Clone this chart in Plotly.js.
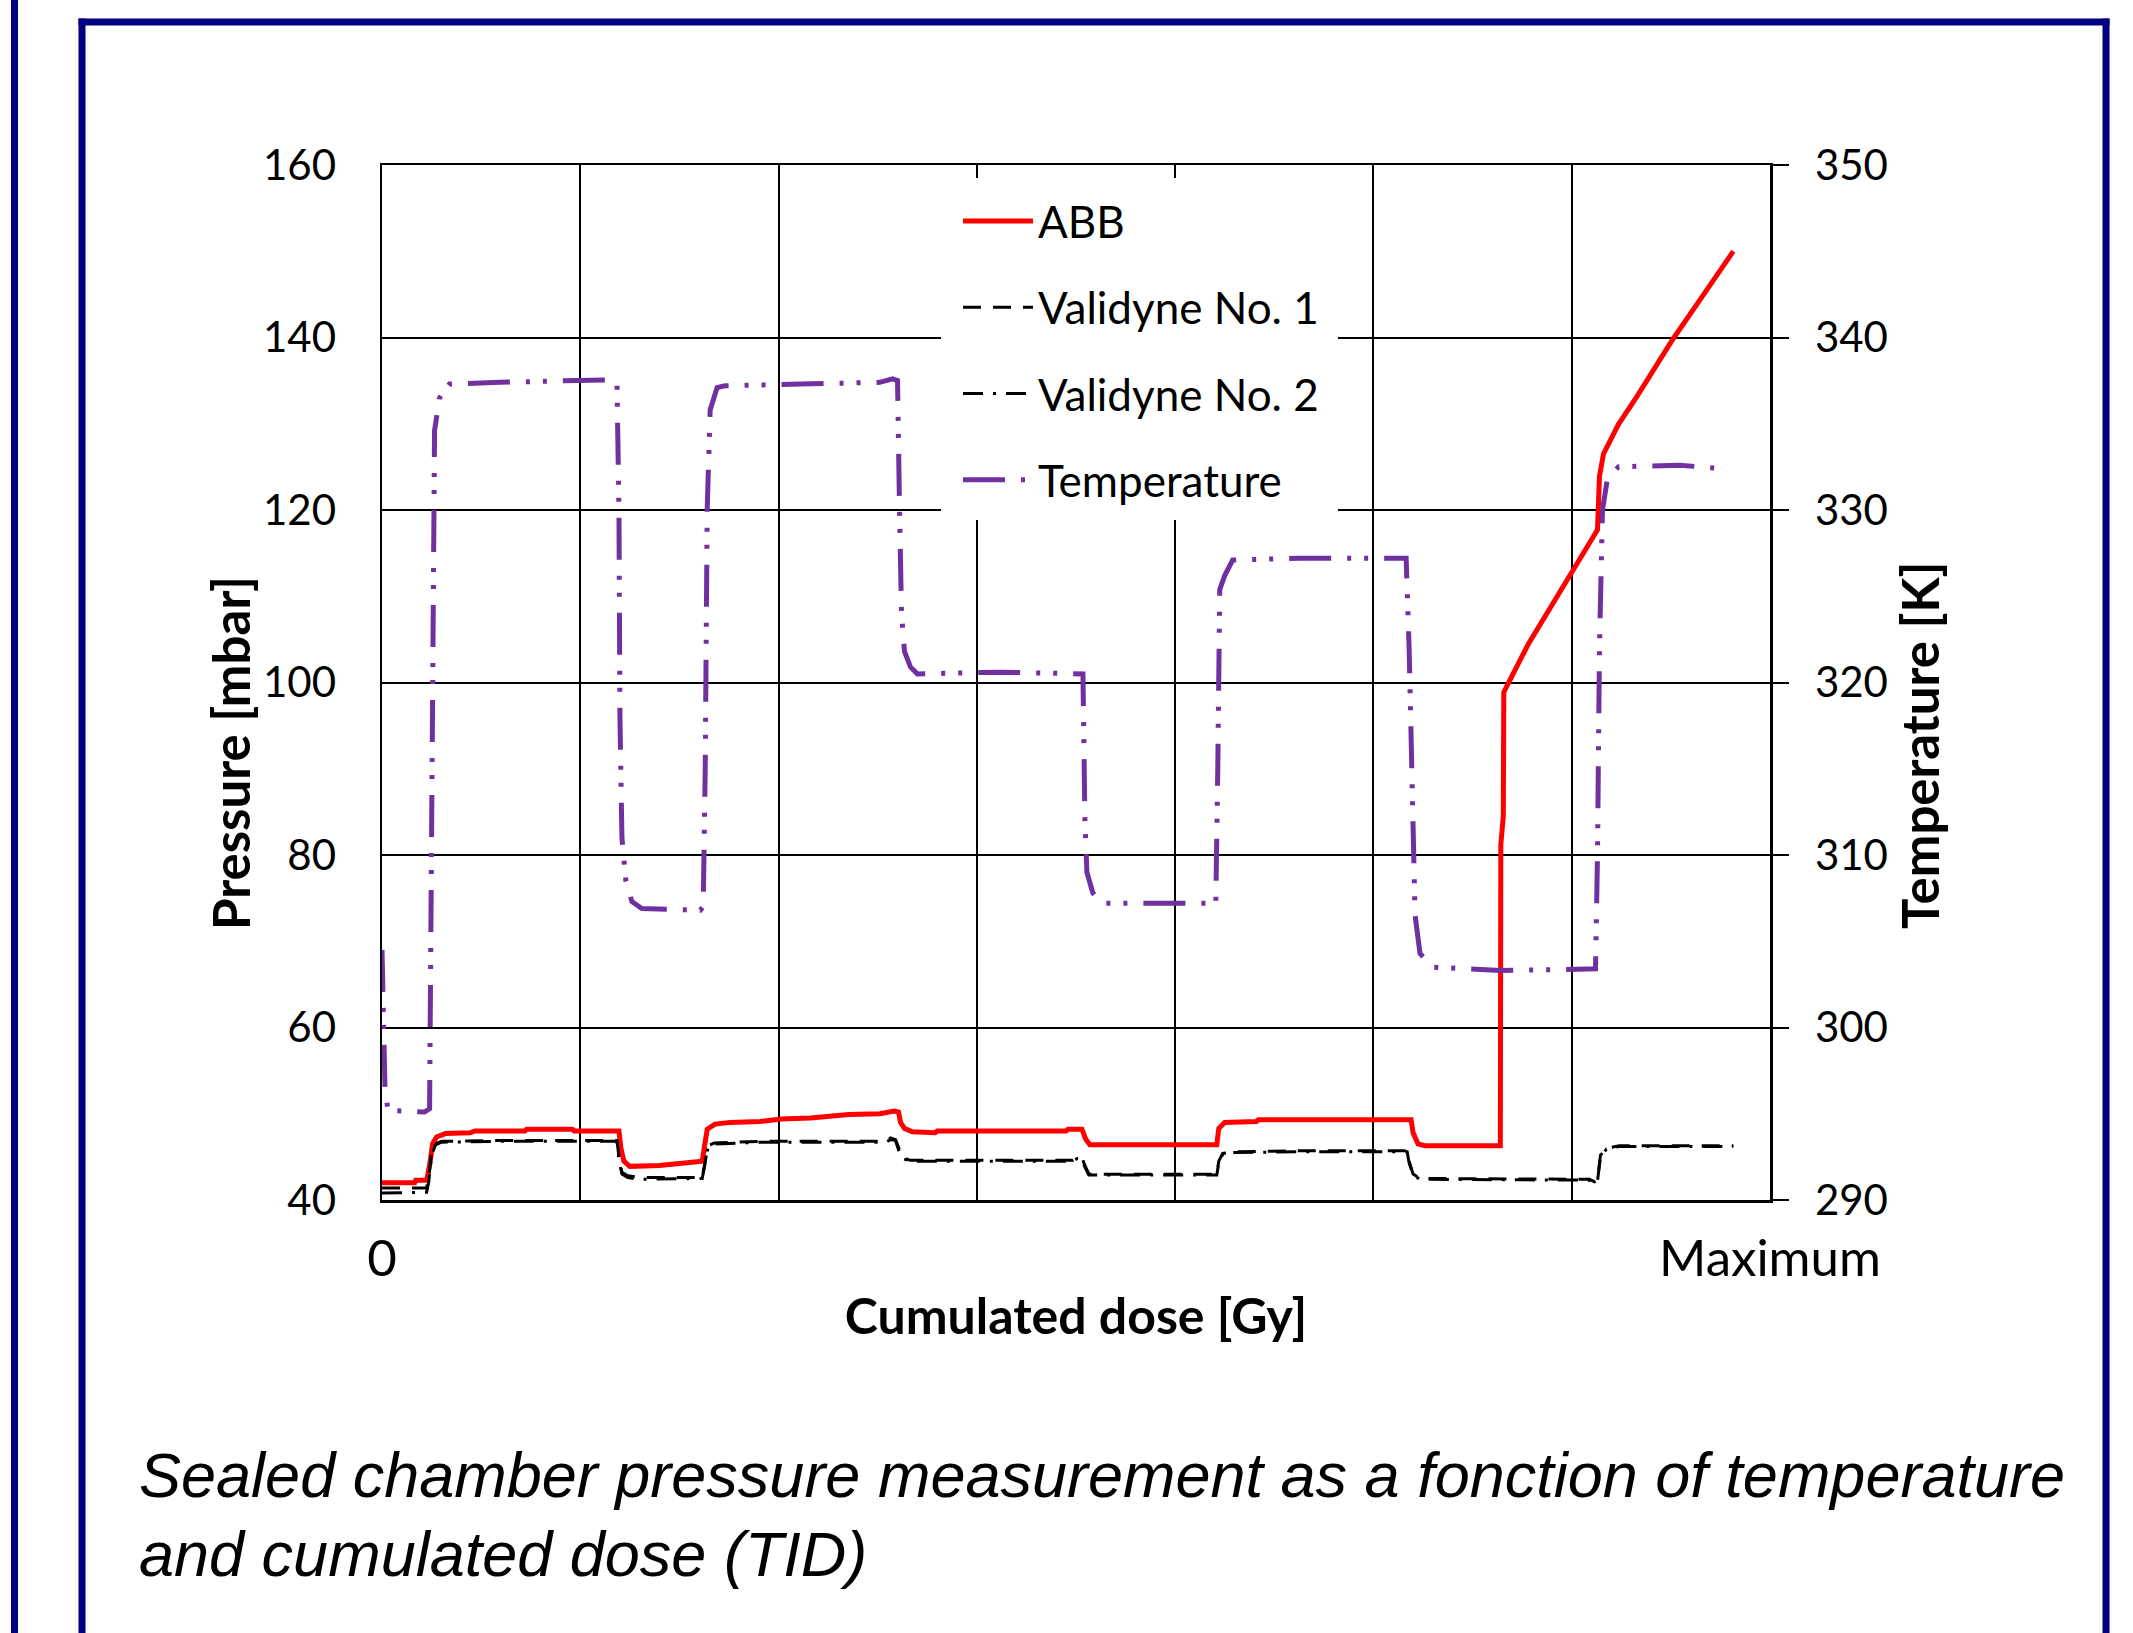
<!DOCTYPE html>
<html><head><meta charset="utf-8">
<script src="https://cdn.plot.ly/plotly-3.0.1.min.js"></script>
<style>html,body{margin:0;padding:0;background:#fff;} #chart{width:2133px;height:1633px;}</style>
</head><body><div id="chart"></div>
<script>
// ---- data (dose in arbitrary units, 0 .. 1400 = Maximum) ----
const doseTicks = [0, 200, 400, 600, 800, 1000, 1200, 1400];
const doseTickText = ['0', '', '', '', '', '', '', 'Maximum'];

const tempDose = [0,3,6,43,48,50,51,53,58,68,119,180,230,237,239,240,242,246,252,262,321,324,326,328,331,338,346,422,502,515,520,522,524,527,533,540,623,707,709,711,717,726,841,843,845,850,858,926,1033,1036,1039,1042,1047,1059,1128,1224,1226,1228,1231,1236,1247,1309,1350];
const tempK = [304.5,296.5,295.2,295.1,295.3,310,325,334.6,336.5,337.3,337.4,337.45,337.55,337.4,330,318,311,308.5,307.3,306.9,306.8,307.0,315,330,335.8,337.1,337.2,337.3,337.4,337.6,337.5,330,324,321.8,320.9,320.5,320.6,320.5,312,309,307.8,307.2,307.2,315,325.4,326.2,327.1,327.2,327.2,322,313,306.5,304.3,303.5,303.3,303.4,310,322,330,331.8,332.5,332.6,332.4];

const abbDose = [0,33,34,45,48,51,55,64,89,94,144,146,192,194,239,241,244,250,280,301,323,325,328,336,351,381,403,432,471,502,517,521,523,527,535,558,560,690,692,706,710,714,842,844,850,882,884,1038,1040,1045,1052,1128,1128.5,1131,1131.5,1156,1198,1226,1228,1232,1236,1247,1266,1302,1329,1363];
const abbP = [42.0,42.0,42.3,42.3,44.0,46.5,47.3,47.7,47.8,48.0,48.0,48.2,48.2,48.0,48.0,46.0,44.5,43.9,44.0,44.3,44.5,46.0,48.2,48.8,49.0,49.1,49.4,49.5,49.9,50.0,50.3,50.2,49.0,48.3,47.9,47.8,48.0,48.0,48.2,48.2,47.0,46.4,46.4,48.3,49.0,49.1,49.3,49.3,47.8,46.5,46.3,46.3,81.2,84.5,98.9,104.4,112.5,117.7,123.9,126.5,127.4,129.9,133.2,139.8,144.3,150.0];

const val1Dose = [0,45,47,50,54,60,119,237,239,242,248,260,323,326,329,335,381,508,513,518,521,525,533,697,701,706,709,713,842,844,848,860,926,1034,1036,1040,1047,1218,1223,1226,1229,1235,1248,1363];
const val1P = [41.4,41.4,42.5,45.5,46.5,46.8,46.9,46.9,45.0,43.2,42.8,42.6,42.6,44.5,46.3,46.6,46.8,46.8,47.2,47.0,46.0,44.9,44.6,44.6,44.9,44.9,44.0,43.0,43.0,44.5,45.4,45.6,45.7,45.7,44.5,43.0,42.5,42.4,42.1,42.3,45.2,46.0,46.3,46.3];

const val2Dose = [0,45,47,50,54,60,119,237,239,242,248,260,323,326,329,335,381,508,513,518,521,525,533,697,701,706,709,713,842,844,848,860,926,1034,1036,1040,1047,1218,1223,1226,1229,1235,1248,1363];
const val2P = [40.8,40.9,42.0,45.2,46.4,46.7,46.8,46.8,44.6,43.0,42.6,42.4,42.5,44.3,46.2,46.5,46.7,46.7,47.0,46.9,45.8,44.8,44.5,44.5,44.8,44.8,43.8,42.9,42.9,44.3,45.3,45.5,45.6,45.6,44.3,42.9,42.4,42.3,41.9,42.2,45.0,45.9,46.2,46.2];

// ---- geometry (pixels) ----
const W = 2133, H = 1633;
const L = 382, R = 1770, T = 165, B = 1200;
const pw = R - L, ph = B - T;
const px = x => (x - L) / pw;
const py = y => (B - y) / ph;

const NAVY = '#000080';
const FONT = 'Lato, "Open Sans", sans-serif';

const traces = [
  {x: abbDose, y: abbP, name: 'ABB', type: 'scatter', mode: 'lines', legendgroup: 'g1',
   line: {color: '#ff0000', width: 5}},
  {x: val1Dose, y: val1P, name: 'Validyne No. 1', type: 'scatter', mode: 'lines', legendgroup: 'g2',
   line: {color: '#000000', width: 3, dash: '18px,12px'}},
  {x: val2Dose, y: val2P, name: 'Validyne No. 2', type: 'scatter', mode: 'lines', legendgroup: 'g3',
   line: {color: '#000000', width: 3, dash: '20px,10px,3px,10px'}},
  {x: tempDose, y: tempK, name: 'Temperature', type: 'scatter', mode: 'lines', yaxis: 'y2', legendgroup: 'g4',
   line: {color: '#7030a0', width: 5, dash: '42px,16px,4px,13px,4px,16px'}}
];

const shapes = [
  // legend background box
  {type: 'rect', xref: 'paper', yref: 'paper', x0: px(941), x1: px(1338), y0: py(520), y1: py(178),
   fillcolor: '#ffffff', line: {width: 0}, layer: 'above'},
  // outer thin left line
  {type: 'line', xref: 'paper', yref: 'paper', x0: px(14.5), x1: px(14.5), y0: py(0), y1: py(H + 10),
   line: {color: NAVY, width: 7}},
  // inner frame
  {type: 'line', xref: 'paper', yref: 'paper', x0: px(82), x1: px(82), y0: py(18.5), y1: py(H + 10),
   line: {color: NAVY, width: 7}},
  {type: 'line', xref: 'paper', yref: 'paper', x0: px(78.5), x1: px(2109.5), y0: py(22), y1: py(22),
   line: {color: NAVY, width: 7}},
  {type: 'line', xref: 'paper', yref: 'paper', x0: px(2106), x1: px(2106), y0: py(18.5), y1: py(H + 10),
   line: {color: NAVY, width: 7}}
];

const annotations = [
  {text: '<b>Pressure [mbar]</b>', xref: 'paper', yref: 'paper', x: px(230), y: py(753),
   xanchor: 'center', yanchor: 'middle', textangle: -90, showarrow: false,
   font: {family: FONT, size: 51, color: '#000'}},
  {text: '<b>Temperature [K]</b>', xref: 'paper', yref: 'paper', x: px(1920), y: py(746),
   xanchor: 'center', yanchor: 'middle', textangle: -90, showarrow: false,
   font: {family: FONT, size: 51, color: '#000'}},
  {text: '<i>Sealed chamber pressure measurement as a fonction of temperature</i>', xref: 'paper', yref: 'paper',
   x: px(137), y: py(1475), xanchor: 'left', yanchor: 'middle', showarrow: false,
   font: {family: '"Liberation Sans", Arial, sans-serif', size: 63, color: '#000'}},
  {text: '<i>and cumulated dose (TID)</i>', xref: 'paper', yref: 'paper',
   x: px(137), y: py(1554), xanchor: 'left', yanchor: 'middle', showarrow: false,
   font: {family: '"Liberation Sans", Arial, sans-serif', size: 63, color: '#000'}}
];

const layout = {
  width: W, height: H,
  margin: {l: L, r: W - R, t: T, b: H - B, pad: 0, autoexpand: false},
  paper_bgcolor: '#ffffff', plot_bgcolor: '#ffffff',
  font: {family: FONT, color: '#000'},
  showlegend: true,
  xaxis: {
    range: [0, 1400], tickmode: 'array', tickvals: doseTicks, ticktext: doseTickText,
    showgrid: true, gridcolor: '#000', gridwidth: 2, zeroline: false,
    showline: true, linecolor: '#000', linewidth: 2.5, mirror: true,
    ticks: '', tickfont: {size: 51, family: FONT, color: '#000'}, ticklabelstandoff: 12,
    title: {text: '<b>Cumulated dose [Gy]</b>', font: {size: 50, family: FONT, color: '#000'}, standoff: 14},
    automargin: false, fixedrange: true
  },
  yaxis: {
    range: [40, 160], tick0: 40, dtick: 20,
    showgrid: true, gridcolor: '#000', gridwidth: 2, zeroline: false,
    showline: true, linecolor: '#000', linewidth: 2.5, mirror: true,
    ticks: '', tickfont: {size: 42, family: FONT, color: '#000'}, ticklabelstandoff: 35,
    automargin: false, fixedrange: true
  },
  yaxis2: {
    range: [290, 350], tick0: 290, dtick: 10, overlaying: 'y', side: 'right',
    showgrid: false, zeroline: false, showline: true, linecolor: '#000', linewidth: 2.5,
    ticks: 'outside', ticklen: 16, tickwidth: 2, tickcolor: '#000',
    tickfont: {size: 42, family: FONT, color: '#000'}, ticklabelstandoff: 18,
    automargin: false, fixedrange: true
  },
  legend: {
    x: px(958), xanchor: 'left', y: py(186), yanchor: 'top',
    bgcolor: 'rgba(255,255,255,0)', borderwidth: 0,
    font: {size: 44, family: FONT, color: '#000'},
    tracegroupgap: 26, itemwidth: 70, traceorder: 'grouped'
  },
  shapes: shapes,
  annotations: annotations
};

Plotly.newPlot('chart', traces, layout, {displayModeBar: false, staticPlot: true});
</script>
</body></html>
